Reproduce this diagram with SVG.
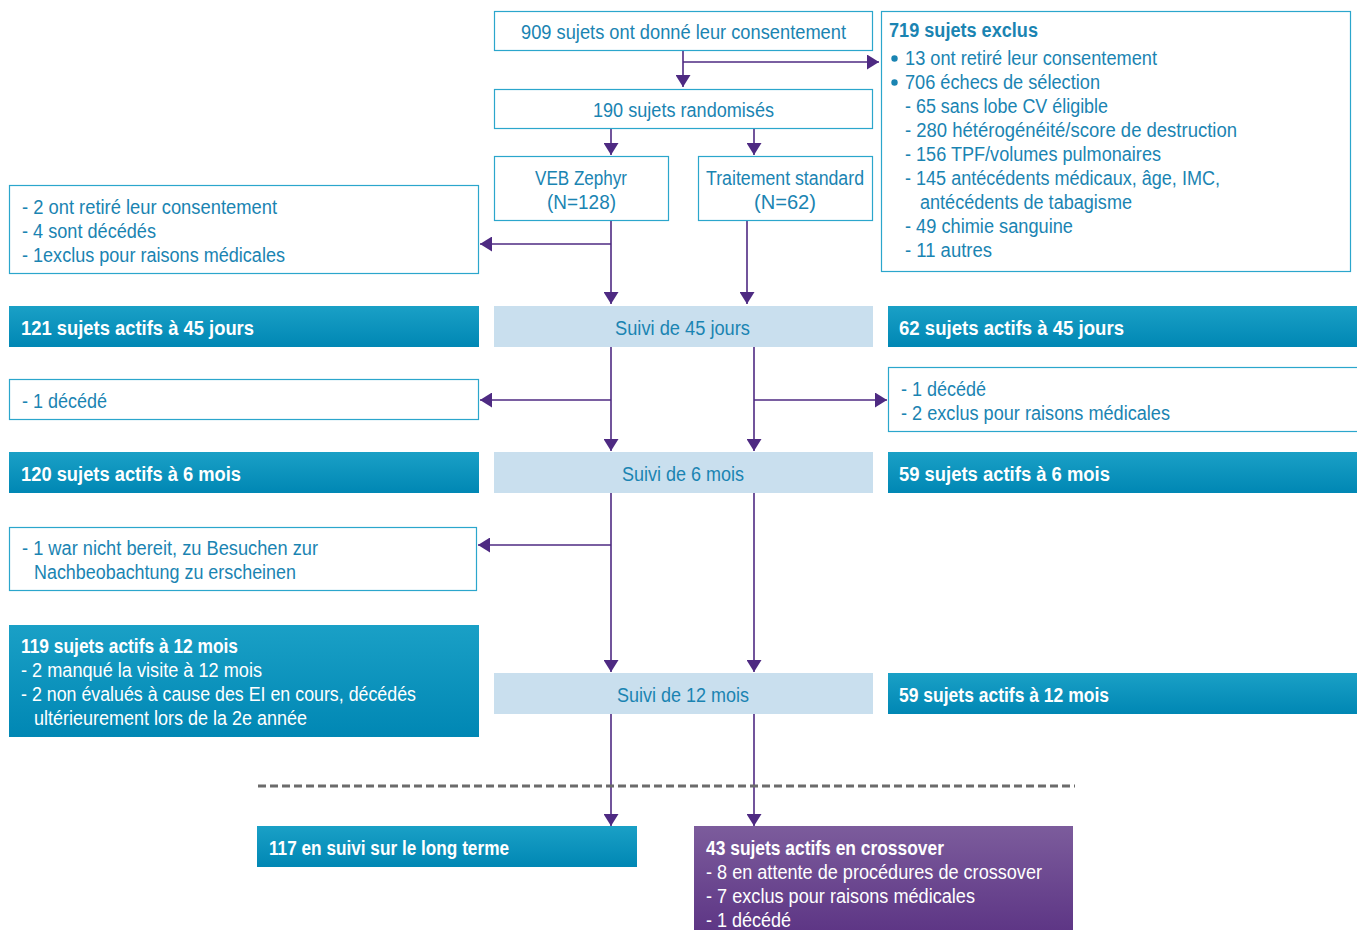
<svg xmlns="http://www.w3.org/2000/svg" width="1357" height="930" viewBox="0 0 1357 930">
<defs>
<linearGradient id="teal" x1="0" y1="0" x2="0" y2="1"><stop offset="0" stop-color="#1aa0c6"/><stop offset="1" stop-color="#0087b4"/></linearGradient>
<linearGradient id="purple" x1="0" y1="0" x2="0" y2="1"><stop offset="0" stop-color="#7c5c9c"/><stop offset="1" stop-color="#5c3484"/></linearGradient>
<marker id="ah" markerWidth="12" markerHeight="15" refX="12" refY="7.5" orient="auto" markerUnits="userSpaceOnUse"><path d="M0,0 L12,7.5 L0,15 Z" fill="#4e2a82"/></marker>
<style>
.ob{fill:#fff;stroke:#2ba6cc;stroke-width:1.2}
.tb{fill:url(#teal)}
.lb{fill:#c9dfee}
.pb{fill:url(#purple)}
text{font-family:"Liberation Sans Narrow","Liberation Sans",Arial,sans-serif;font-size:20px}
.t{fill:#1a84b2}
.w{fill:#fff}
.b{font-weight:bold}
.c{stroke:#4e2a82;stroke-width:1.6;fill:none}
</style>
</defs>
<g id="connectors">
<path class="c" d="M683,50 V87" marker-end="url(#ah)"/>
<path class="c" d="M683,62 H879" marker-end="url(#ah)"/>
<path class="c" d="M611,128 V155" marker-end="url(#ah)"/>
<path class="c" d="M754,128 V155" marker-end="url(#ah)"/>
<path class="c" d="M611,220 V304" marker-end="url(#ah)"/>
<path class="c" d="M611,244 H480" marker-end="url(#ah)"/>
<path class="c" d="M747,220 V304" marker-end="url(#ah)"/>
<path class="c" d="M611,346 V451" marker-end="url(#ah)"/>
<path class="c" d="M611,400 H480" marker-end="url(#ah)"/>
<path class="c" d="M754,346 V451" marker-end="url(#ah)"/>
<path class="c" d="M754,400 H887" marker-end="url(#ah)"/>
<path class="c" d="M611,492 V672" marker-end="url(#ah)"/>
<path class="c" d="M611,545 H478" marker-end="url(#ah)"/>
<path class="c" d="M754,492 V672" marker-end="url(#ah)"/>
<path class="c" d="M611,713 V826" marker-end="url(#ah)"/>
<path class="c" d="M754,713 V826" marker-end="url(#ah)"/>
<line x1="258" y1="786" x2="1075" y2="786" stroke="#6b6b6b" stroke-width="3" stroke-dasharray="8,4"/>
</g>
<g id="consent">
<rect class="ob" x="494.5" y="11.5" width="378" height="39"/>
<text class="t" x="521" y="39" textLength="325" lengthAdjust="spacingAndGlyphs">909 sujets ont donné leur consentement</text>
</g>
<g id="randomised">
<rect class="ob" x="494.5" y="89.5" width="378" height="39"/>
<text class="t" x="593" y="117" textLength="181" lengthAdjust="spacingAndGlyphs">190 sujets randomisés</text>
</g>
<g id="excluded">
<rect class="ob" x="881.5" y="11.5" width="469" height="260"/>
<text class="t b" x="889" y="37" textLength="149" lengthAdjust="spacingAndGlyphs">719 sujets exclus</text>
<circle cx="894.5" cy="58.5" r="3.2" fill="#1a84b2"/>
<text class="t" x="905" y="65" textLength="252" lengthAdjust="spacingAndGlyphs">13 ont retiré leur consentement</text>
<circle cx="894.5" cy="82.5" r="3.2" fill="#1a84b2"/>
<text class="t" x="905" y="89" textLength="195" lengthAdjust="spacingAndGlyphs">706 échecs de sélection</text>
<text class="t" x="905" y="113" textLength="203" lengthAdjust="spacingAndGlyphs">- 65 sans lobe CV éligible</text>
<text class="t" x="905" y="137" textLength="332" lengthAdjust="spacingAndGlyphs">- 280 hétérogénéité/score de destruction</text>
<text class="t" x="905" y="161" textLength="256" lengthAdjust="spacingAndGlyphs">- 156 TPF/volumes pulmonaires</text>
<text class="t" x="905" y="185" textLength="315" lengthAdjust="spacingAndGlyphs">- 145 antécédents médicaux, âge, IMC,</text>
<text class="t" x="920" y="209" textLength="212" lengthAdjust="spacingAndGlyphs">antécédents de tabagisme</text>
<text class="t" x="905" y="233" textLength="168" lengthAdjust="spacingAndGlyphs">- 49 chimie sanguine</text>
<text class="t" x="905" y="257" textLength="87" lengthAdjust="spacingAndGlyphs">- 11 autres</text>
</g>
<g id="veb">
<rect class="ob" x="494.5" y="156.5" width="174" height="64"/>
<text class="t" x="535" y="185" textLength="92" lengthAdjust="spacingAndGlyphs">VEB Zephyr</text>
<text class="t" x="547" y="209" textLength="69" lengthAdjust="spacingAndGlyphs">(N=128)</text>
</g>
<g id="standard">
<rect class="ob" x="698.5" y="156.5" width="174" height="64"/>
<text class="t" x="706" y="185" textLength="158" lengthAdjust="spacingAndGlyphs">Traitement standard</text>
<text class="t" x="754" y="209" textLength="62" lengthAdjust="spacingAndGlyphs">(N=62)</text>
</g>
<g id="veb-drop1">
<rect class="ob" x="9.5" y="185.5" width="469" height="88"/>
<text class="t" x="22" y="214" textLength="255" lengthAdjust="spacingAndGlyphs">- 2 ont retiré leur consentement</text>
<text class="t" x="22" y="238" textLength="134" lengthAdjust="spacingAndGlyphs">- 4 sont décédés</text>
<text class="t" x="22" y="262" textLength="263" lengthAdjust="spacingAndGlyphs">- 1exclus pour raisons médicales</text>
</g>
<g id="veb-45">
<rect class="tb" x="9" y="306" width="470" height="41"/>
<text class="w b" x="21" y="335" textLength="233" lengthAdjust="spacingAndGlyphs">121 sujets actifs à 45 jours</text>
</g>
<g id="fu-45">
<rect class="lb" x="494" y="306" width="379" height="41"/>
<text class="t" x="615" y="335" textLength="135" lengthAdjust="spacingAndGlyphs">Suivi de 45 jours</text>
</g>
<g id="std-45">
<rect class="tb" x="888" y="306" width="469" height="41"/>
<text class="w b" x="899" y="335" textLength="225" lengthAdjust="spacingAndGlyphs">62 sujets actifs à 45 jours</text>
</g>
<g id="veb-drop2">
<rect class="ob" x="9.5" y="379.5" width="469" height="40"/>
<text class="t" x="22" y="408" textLength="85" lengthAdjust="spacingAndGlyphs">- 1 décédé</text>
</g>
<g id="std-drop2">
<rect class="ob" x="888.5" y="367.5" width="470" height="64"/>
<text class="t" x="901" y="396" textLength="85" lengthAdjust="spacingAndGlyphs">- 1 décédé</text>
<text class="t" x="901" y="420" textLength="269" lengthAdjust="spacingAndGlyphs">- 2 exclus pour raisons médicales</text>
</g>
<g id="veb-6">
<rect class="tb" x="9" y="452" width="470" height="41"/>
<text class="w b" x="21" y="481" textLength="220" lengthAdjust="spacingAndGlyphs">120 sujets actifs à 6 mois</text>
</g>
<g id="fu-6">
<rect class="lb" x="494" y="452" width="379" height="41"/>
<text class="t" x="622" y="481" textLength="122" lengthAdjust="spacingAndGlyphs">Suivi de 6 mois</text>
</g>
<g id="std-6">
<rect class="tb" x="888" y="452" width="469" height="41"/>
<text class="w b" x="899" y="481" textLength="211" lengthAdjust="spacingAndGlyphs">59 sujets actifs à 6 mois</text>
</g>
<g id="veb-drop3">
<rect class="ob" x="9.5" y="527.5" width="467" height="63"/>
<text class="t" x="22" y="555" textLength="296" lengthAdjust="spacingAndGlyphs">- 1 war nicht bereit, zu Besuchen zur</text>
<text class="t" x="34" y="579" textLength="262" lengthAdjust="spacingAndGlyphs">Nachbeobachtung zu erscheinen</text>
</g>
<g id="veb-12">
<rect class="tb" x="9" y="625" width="470" height="112"/>
<text class="w b" x="21" y="653" textLength="217" lengthAdjust="spacingAndGlyphs">119 sujets actifs à 12 mois</text>
<text class="w" x="21" y="677" textLength="241" lengthAdjust="spacingAndGlyphs">- 2 manqué la visite à 12 mois</text>
<text class="w" x="21" y="701" textLength="395" lengthAdjust="spacingAndGlyphs">- 2 non évalués à cause des EI en cours, décédés</text>
<text class="w" x="34" y="725" textLength="273" lengthAdjust="spacingAndGlyphs">ultérieurement lors de la 2e année</text>
</g>
<g id="fu-12">
<rect class="lb" x="494" y="673" width="379" height="41"/>
<text class="t" x="617" y="702" textLength="132" lengthAdjust="spacingAndGlyphs">Suivi de 12 mois</text>
</g>
<g id="std-12">
<rect class="tb" x="888" y="673" width="469" height="41"/>
<text class="w b" x="899" y="702" textLength="210" lengthAdjust="spacingAndGlyphs">59 sujets actifs à 12 mois</text>
</g>
<g id="long-term">
<rect class="tb" x="257" y="826" width="380" height="41"/>
<text class="w b" x="269" y="855" textLength="240" lengthAdjust="spacingAndGlyphs">117 en suivi sur le long terme</text>
</g>
<g id="crossover">
<rect class="pb" x="694" y="826" width="379" height="110"/>
<text class="w b" x="706" y="855" textLength="238" lengthAdjust="spacingAndGlyphs">43 sujets actifs en crossover</text>
<text class="w" x="706" y="879" textLength="336" lengthAdjust="spacingAndGlyphs">- 8 en attente de procédures de crossover</text>
<text class="w" x="706" y="903" textLength="269" lengthAdjust="spacingAndGlyphs">- 7 exclus pour raisons médicales</text>
<text class="w" x="706" y="927" textLength="85" lengthAdjust="spacingAndGlyphs">- 1 décédé</text>
</g>
</svg>
